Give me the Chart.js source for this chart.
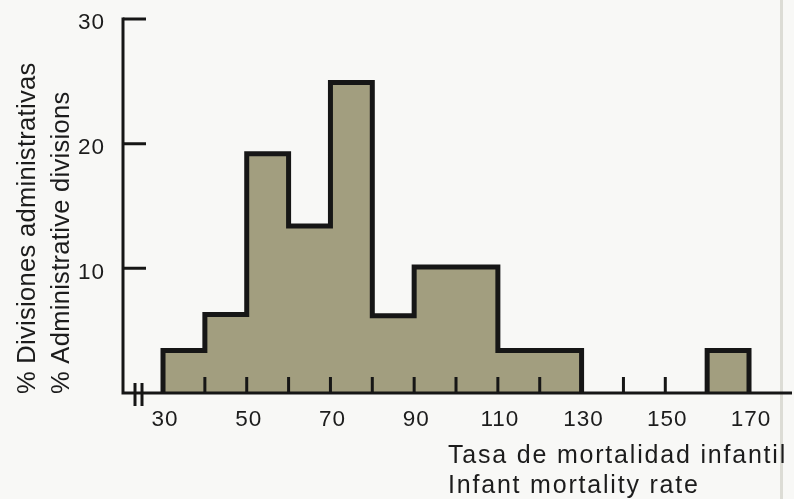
<!DOCTYPE html>
<html>
<head>
<meta charset="utf-8">
<script src="https://cdn.jsdelivr.net/npm/chart.js@4"></script>
<style>
    body { margin: 0; background: #f8f8f6; }
    canvas { display: block; }
</style>
</head>
<body>
<canvas id="histogram" width="794" height="499"></canvas>
<script>
// bins of the infant mortality rate, 10 units wide
const binEdges = [30, 40, 50, 60, 70, 80, 90, 100, 110, 120, 130, 140, 150, 160, 170];
// % of administrative divisions in each bin
const shares = [3.4, 6.3, 19.2, 13.4, 24.9, 6.2, 10.1, 10.1, 3.4, 3.4, 0, 0, 0, 3.4];

const xTickLabels = [30, 50, 70, 90, 110, 130, 150, 170];
const xMinorTicks = [40, 50, 60, 70, 80, 90, 100, 110, 120, 130, 140, 150, 160];
const yTickLabels = [10, 20, 30];

const yTitle = ["% Divisiones administrativas", "% Administrative divisions"];
const xTitle = ["Tasa de mortalidad infantil", "Infant mortality rate"];

const ink = "#161616";
const textColor = "#1c1c1c";
const fontFamily = "'Liberation Sans', Arial, sans-serif";

// outline of the histogram as a stepped line; empty bins break it
function buildOutline(edges, values) {
    const pts = [];
    values.forEach((v, i) => {
        if (v <= 0) return;
        if (i === 0 || values[i - 1] <= 0) pts.push({ x: edges[i], y: 0 });
        pts.push({ x: edges[i], y: v });
        if (i === values.length - 1 || values[i + 1] <= 0) {
            pts.push({ x: edges[i + 1], y: v });
            pts.push({ x: edges[i + 1], y: 0 });
            pts.push({ x: edges[i + 1], y: null });
        }
    });
    return pts;
}

const axisPlugin = {
    id: "axisDecor",
    beforeDraw(chart) {
        const ctx = chart.ctx;
        ctx.save();
        ctx.fillStyle = "#f8f8f6";
        ctx.fillRect(0, 0, chart.width, chart.height);
        // page fold
        ctx.fillStyle = "rgba(196, 196, 186, 0.55)";
        ctx.fillRect(780, 0, 3, chart.height);
        ctx.restore();
    },
    afterDatasetsDraw(chart) {
        const ctx = chart.ctx;
        const x = chart.scales.x;
        const y = chart.scales.y;
        const area = chart.chartArea;
        const base = y.getPixelForValue(0);

        ctx.save();
        ctx.strokeStyle = ink;
        ctx.lineWidth = 3;
        ctx.lineCap = "butt";

        // baseline and vertical axis
        ctx.beginPath();
        ctx.moveTo(area.left - 1.5, base);
        ctx.lineTo(area.right, base);
        ctx.moveTo(area.left, base + 1.5);
        ctx.lineTo(area.left, y.getPixelForValue(yTickLabels[yTickLabels.length - 1]) - 1.5);
        ctx.stroke();

        // y ticks point into the plot
        ctx.beginPath();
        yTickLabels.forEach(v => {
            const py = y.getPixelForValue(v);
            ctx.moveTo(area.left, py);
            ctx.lineTo(area.left + 23, py);
        });
        // short upward ticks along the x axis
        xMinorTicks.forEach(v => {
            const px = x.getPixelForValue(v);
            ctx.moveTo(px, base);
            ctx.lineTo(px, base - 16);
        });
        ctx.stroke();

        // axis break
        ctx.beginPath();
        [135, 142].forEach(px => {
            ctx.moveTo(px, base - 10);
            ctx.lineTo(px, base + 13);
        });
        ctx.stroke();

        // tick labels
        ctx.fillStyle = textColor;
        ctx.font = "22.5px " + fontFamily;
        ctx.letterSpacing = "1px";
        ctx.textBaseline = "middle";
        ctx.textAlign = "right";
        yTickLabels.forEach(v => {
            ctx.fillText(String(v), 105, y.getPixelForValue(v) + 4);
        });
        ctx.textAlign = "center";
        xTickLabels.forEach(v => {
            ctx.fillText(String(v), x.getPixelForValue(v) + 2, base + 27);
        });

        // axis titles
        ctx.font = "25.5px " + fontFamily;
        ctx.textAlign = "left";
        ctx.letterSpacing = "0.3px";
        [28, 62].forEach((cx, i) => {
            ctx.save();
            ctx.translate(cx, base + 1);
            ctx.rotate(-Math.PI / 2);
            ctx.fillText(yTitle[i], 0, 0);
            ctx.restore();
        });
        ctx.font = "25px " + fontFamily;
        ctx.letterSpacing = "1.8px";
        ctx.fillText(xTitle[0], 448, 456);
        ctx.fillText(xTitle[1], 448, 486);
        ctx.restore();
    }
};

new Chart(document.getElementById("histogram"), {
    type: "line",
    data: {
        datasets: [{
            data: buildOutline(binEdges, shares),
            stepped: "before",
            fill: "origin",
            spanGaps: false,
            backgroundColor: "#a29e7f",
            borderColor: ink,
            borderWidth: 5,
            borderJoinStyle: "miter",
            borderCapStyle: "butt",
            pointRadius: 0,
        }],
    },
    options: {
        responsive: false,
        animation: false,
        devicePixelRatio: 1,
        layout: { padding: { top: 19, right: 2, left: 0, bottom: 0 } },
        plugins: {
            legend: { display: false },
            tooltip: { enabled: false },
        },
        scales: {
            x: {
                type: "linear",
                min: 20.44,
                max: 180.27,
                grid: { display: false, drawTicks: false },
                border: { display: false },
                afterBuildTicks: scale => {
                    scale.ticks = xTickLabels.map(v => ({ value: v }));
                },
                afterFit: scale => { scale.height = 106; },
                ticks: { display: false },
            },
            y: {
                min: 0,
                max: 30,
                grid: { display: false, drawTicks: false },
                border: { display: false },
                afterBuildTicks: scale => {
                    scale.ticks = yTickLabels.map(v => ({ value: v }));
                },
                afterFit: scale => { scale.width = 123; },
                ticks: { display: false },
            },
        },
    },
    plugins: [axisPlugin],
});
</script>
</body>
</html>
